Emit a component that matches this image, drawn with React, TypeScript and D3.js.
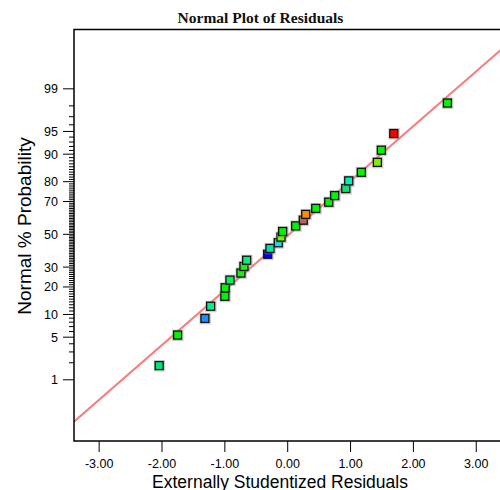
import React from "react";
import * as d3 from "d3";

// ---- Data ----
const residuals = [
  -2.045, -1.752, -1.317, -1.226, -1.0, -0.995, -0.919, -0.744, -0.696, -0.653,
  -0.318, -0.282, -0.15, -0.107, -0.08, 0.127, 0.248, 0.287, 0.446, 0.653,
  0.748, 0.924, 0.971, 1.172, 1.427, 1.49, 1.688, 2.541,
];
const probabilities = [
  1.79, 5.36, 8.93, 12.5, 16.07, 19.64, 23.21, 26.79, 30.36, 33.93,
  37.5, 41.07, 44.64, 48.21, 51.79, 55.36, 58.93, 62.5, 66.07, 69.64,
  73.21, 76.79, 80.36, 83.93, 87.5, 91.07, 94.64, 98.21,
];
const pointColors = [
  "#00e676", "#00f500", "#1e8fff", "#00f08c", "#00f500", "#00f500", "#00f060", "#10f510", "#20f500", "#00f080",
  "#0000ff", "#00e8a0", "#00e5ff", "#66ff00", "#00f500", "#00f500", "#b86060", "#ff8c00", "#00f500", "#00f500",
  "#00f500", "#00e878", "#00f0b4", "#00f500", "#80f000", "#00f500", "#ff0000", "#00f500",
];
const lineResiduals = [-3.4, 3.4];
const lineProbabilities = [0.137, 99.845];

const xTicks = [-3, -2, -1, 0, 1, 2, 3];
const yMajorTicks = [1, 5, 10, 20, 30, 50, 70, 80, 90, 95, 99];

const title = "Normal Plot of Residuals";
const xTitle = "Externally Studentized Residuals";
const yTitle = "Normal % Probability";

// inverse normal CDF (Acklam)
function probit(p: number): number {
  const a = [-3.969683028665376e1, 2.209460984245205e2, -2.759285104469687e2, 1.38357751867269e2, -3.066479806614716e1, 2.506628277459239];
  const b = [-5.447609879822406e1, 1.615858368580409e2, -1.556989798598866e2, 6.680131188771972e1, -1.328068155288572e1];
  const c = [-7.784894002430293e-3, -3.223964580411365e-1, -2.400758277161838, -2.549732539343734, 4.374664141464968, 2.938163982698783];
  const d = [7.784695709041462e-3, 3.224671290700398e-1, 2.445134137142996, 3.754408661907416];
  const pl = 0.02425;
  if (p < pl) {
    const q = Math.sqrt(-2 * Math.log(p));
    return (((((c[0] * q + c[1]) * q + c[2]) * q + c[3]) * q + c[4]) * q + c[5]) / ((((d[0] * q + d[1]) * q + d[2]) * q + d[3]) * q + 1);
  }
  if (p > 1 - pl) {
    const q = Math.sqrt(-2 * Math.log(1 - p));
    return -(((((c[0] * q + c[1]) * q + c[2]) * q + c[3]) * q + c[4]) * q + c[5]) / ((((d[0] * q + d[1]) * q + d[2]) * q + d[3]) * q + 1);
  }
  const q = p - 0.5;
  const r = q * q;
  return ((((((a[0] * r + a[1]) * r + a[2]) * r + a[3]) * r + a[4]) * r + a[5]) * q) / (((((b[0] * r + b[1]) * r + b[2]) * r + b[3]) * r + b[4]) * r + 1);
}

export default function App() {
  const left = 74, right = 501.4, top = 29.5, bottom = 441;
  const x = d3.scaleLinear().domain([-3.4, 3.4]).range([left, right]);
  const z = d3.scaleLinear().domain([-3.305, 3.275]).range([bottom, top]);
  const y = (pct: number) => z(probit(pct / 100));

  const yMinorTicks = d3.range(2, 99).filter((v) => !yMajorTicks.includes(v));

  const line = d3.line<number>()
    .x((_, i) => x(lineResiduals[i]))
    .y((_, i) => y(lineProbabilities[i]));

  const sq = 8;
  const font = "'Liberation Sans', Arial, sans-serif";

  return (
    <svg width={500} height={490} style={{ position: "absolute", left: 0, top: 0, background: "#fff" }}>
      <rect x={0} y={0} width={500} height={490} fill="#fff" />
      <defs>
        <clipPath id="plotclip">
          <rect x={left} y={top} width={right - left} height={bottom - top} />
        </clipPath>
      </defs>
      <text x={260.5} y={23} textAnchor="middle" fontFamily="'Liberation Serif', 'Times New Roman', serif" fontWeight="bold" fontSize={15.5} fill="#111">
        {title}
      </text>

      {/* fit line */}
      <path d={line(lineResiduals) || ""} stroke="#f67f7f" strokeWidth={2} fill="none" clipPath="url(#plotclip)" />

      {/* points */}
      <g clipPath="url(#plotclip)">
        {residuals.map((r, i) => {
          const cx = x(r), cy = y(probabilities[i]);
          return (
            <g key={i}>
              <rect x={cx - 5.5} y={cy - 5.5} width={11.5} height={11.5} fill="#8a8a8a" opacity={0.4} />
              <rect x={cx - sq / 2} y={cy - sq / 2} width={sq} height={sq} fill={pointColors[i]} stroke="#111" strokeWidth={1.3} />
            </g>
          );
        })}
      </g>

      {/* frame */}
      <rect x={left} y={top} width={right - left} height={bottom - top} fill="none" stroke="#000" strokeWidth={1.5} />

      {/* x axis ticks */}
      {xTicks.map((t) => (
        <g key={t}>
          <line x1={x(t)} x2={x(t)} y1={bottom} y2={bottom + 11} stroke="#000" strokeWidth={1} />
          <text x={x(t)} y={468} textAnchor="middle" fontFamily={font} fontSize={12.5} fill="#000">
            {t.toFixed(2)}
          </text>
        </g>
      ))}

      {/* y axis ticks */}
      {yMinorTicks.map((t) => (
        <line key={"m" + t} x1={left - 5} x2={left} y1={y(t)} y2={y(t)} stroke="#000" strokeWidth={1} />
      ))}
      {yMajorTicks.map((t) => (
        <g key={t}>
          <line x1={left - 11} x2={left} y1={y(t)} y2={y(t)} stroke="#000" strokeWidth={1} />
          <text x={58} y={y(t)} dy="0.36em" textAnchor="end" fontFamily={font} fontSize={12.5} fill="#000">
            {t}
          </text>
        </g>
      ))}

      <text x={280} y={487.5} textAnchor="middle" fontFamily={font} fontSize={17.5} fill="#000">
        {xTitle}
      </text>
      <text transform="translate(30.5,226) rotate(-90)" textAnchor="middle" fontFamily={font} fontSize={19} fill="#000">
        {yTitle}
      </text>
    </svg>
  );
}
